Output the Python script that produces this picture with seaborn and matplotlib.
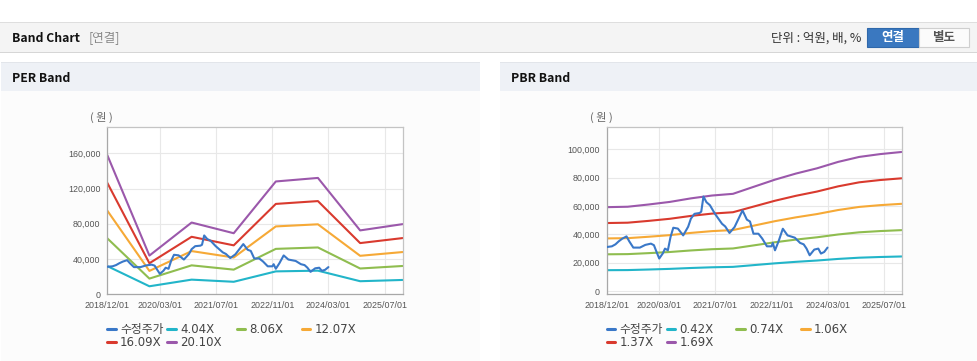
import pandas as pd
import matplotlib.pyplot as plt
import matplotlib.ticker as mticker
from matplotlib.patches import Rectangle
from matplotlib.lines import Line2D
import seaborn as sns

# ---- values ----
price_name = "수정주가"
price_dates = [
    "2018-12-01", "2019-01-15", "2019-02-15", "2019-03-15", "2019-04-15", "2019-05-22",
    "2019-06-15", "2019-07-20", "2019-09-15", "2019-11-01", "2019-12-20", "2020-01-15",
    "2020-02-07", "2020-03-01", "2020-04-01", "2020-04-20", "2020-05-15", "2020-06-07",
    "2020-07-01", "2020-08-10", "2020-09-25", "2020-11-07", "2020-12-01", "2021-01-01",
    "2021-02-15", "2021-03-01", "2021-03-20", "2021-04-15", "2021-05-15", "2021-06-28",
    "2021-08-28", "2021-09-25", "2021-11-01", "2021-12-15", "2022-02-22", "2022-04-01",
    "2022-04-28", "2022-05-28", "2022-07-10", "2022-08-12", "2022-09-22", "2022-11-01",
    "2022-11-12", "2022-12-01", "2023-01-01", "2023-02-07", "2023-03-20", "2023-05-22",
    "2023-07-07", "2023-08-07", "2023-09-01", "2023-09-28", "2023-11-07", "2023-12-12",
    "2024-01-04", "2024-02-01", "2024-03-01",
]
price_values = [
    31000, 31500, 32900, 35000, 36900, 38500,
    35000, 30600, 30600, 32500, 33400, 32300,
    27500, 22900, 26500, 29900, 28700, 38000,
    44600, 44000, 39200, 45300, 51000, 54400,
    55000, 56000, 66600, 62600, 60500, 54400,
    47400, 45500, 40900, 45100, 56800, 50300,
    49000, 40400, 40400, 37000, 31500, 31500,
    33900, 28700, 35000, 43900, 39200, 37600,
    33900, 32900, 29900, 25200, 29200, 29900,
    26400, 27500, 30600,
]

# PER band: earnings per share at each year end, times the multiples
per_dates = ["2018-12-01", "2019-12-01", "2020-12-01", "2021-12-01",
             "2022-12-01", "2023-12-01", "2024-12-01", "2025-12-05"]
per_eps = [7860, 2175, 4045, 3440, 6370, 6570, 3600, 3955]
per_multiples = ["4.04X", "8.06X", "12.07X", "16.09X", "20.10X"]

# PBR band: book value per share, half-yearly, times the multiples
pbr_dates = ["2018-12-01", "2019-06-01", "2019-12-01", "2020-06-01", "2020-12-01",
             "2021-06-01", "2021-12-01", "2022-06-01", "2022-12-01", "2023-06-01",
             "2023-12-01", "2024-06-01", "2024-12-01", "2025-06-01", "2025-12-05"]
pbr_bps = [34970, 35150, 36090, 37160, 38640, 39820, 40530, 43490,
           46450, 48990, 51180, 53850, 55920, 57100, 57990]
pbr_multiples = ["0.42X", "0.74X", "1.06X", "1.37X", "1.69X"]

x_ticks = ["2018-12-01", "2020-03-01", "2021-07-01", "2022-11-01", "2024-03-01", "2025-07-01"]
per_yticks = [0, 40000, 80000, 120000, 160000]
pbr_yticks = [0, 20000, 40000, 60000, 80000, 100000]

line_colors = ["#3a78c8", "#22b5c9", "#8fbd4f", "#f6a936", "#d93a2e", "#9b58ab"]


def band_frame(dates, base, multiples):
    rows = [pd.DataFrame({"date": price_dates, "value": price_values, "series": price_name})]
    for m in multiples:
        k = float(m.rstrip("X"))
        rows.append(pd.DataFrame({"date": dates, "value": [k * b for b in base], "series": m}))
    df = pd.concat(rows, ignore_index=True)
    df["date"] = pd.to_datetime(df["date"])
    return df


sns.set_theme(style="white")
plt.rcParams["font.family"] = ["DejaVu Sans", "Noto Sans CJK KR"]
KR = ["Noto Sans CJK KR", "DejaVu Sans"]

W, H = 978, 361
fig = plt.figure(figsize=(W / 100, H / 100), dpi=100)
fig.patch.set_facecolor("white")


def box(x0, y0, x1, y1, **kw):
    fig.add_artist(Rectangle((x0 / W, 1 - y1 / H), (x1 - x0) / W, (y1 - y0) / H,
                             transform=fig.transFigure, zorder=-2, **kw))


def label(x, y, s, **kw):
    fig.text(x / W, 1 - y / H, s, **kw)


# page header
box(0, 22, W, 52, facecolor="#f4f4f4", edgecolor="none")
box(0, 21.5, W, 23, facecolor="#dedede", edgecolor="none")
box(0, 51.5, W, 53, facecolor="#d6d6d6", edgecolor="none")
label(12, 38, "Band Chart", family=KR, weight="bold", size=8.8, color="#111", va="center")
label(89, 38, "[연결]", family=KR, size=9, color="#8a8a8a", va="center")
label(861, 38, "단위 : 억원, 배, %", family=KR, size=9, color="#333", va="center", ha="right")
box(867, 28, 919, 46.5, facecolor="#3a78c0", edgecolor="#2f68ab", lw=0.8)
box(919, 28, 969, 46.5, facecolor="#fbfbfb", edgecolor="#cfcfcf", lw=0.8)
label(893, 37.5, "연결", family=KR, weight="bold", size=9, color="white", va="center", ha="center")
label(944, 37.5, "별도", family=KR, weight="bold", size=9, color="#555", va="center", ha="center")

panels = [
    dict(x0=1, x1=480, title="PER Band", left=107.3, right=402.7, ylim=(0, 190000),
         yticks=per_yticks, df=band_frame(per_dates, per_eps, per_multiples), unit_x=101.7),
    dict(x0=500, x1=W, title="PBR Band", left=606.7, right=901.7, ylim=(-2100, 115600),
         yticks=pbr_yticks, df=band_frame(pbr_dates, pbr_bps, pbr_multiples), unit_x=601.7),
]

for p in panels:
    box(p["x0"], 62, p["x1"], 91, facecolor="#eef1f6", edgecolor="none")
    box(p["x0"], 61.5, p["x1"], 63, facecolor="#e2e5ea", edgecolor="none")
    box(p["x0"], 91, p["x1"], H, facecolor="#fcfcfc", edgecolor="none")
    label(p["x0"] + 11, 78, p["title"], family=KR, weight="bold", size=8.8, color="#111", va="center")
    label(p["unit_x"], 117.5, "( 원 )", family=KR, size=8, color="#666", va="center", ha="center")

    ax = fig.add_axes([p["left"] / W, 1 - 294 / H, (p["right"] - p["left"]) / W, 167 / H])
    ax.set_facecolor("white")
    df = p["df"]
    order = df["series"].unique().tolist()
    palette = dict(zip(order, line_colors))
    sns.lineplot(data=df[df["series"] != price_name], x="date", y="value", hue="series",
                 palette=palette, linewidth=1.5, legend=False, ax=ax, zorder=2)
    sns.lineplot(data=df[df["series"] == price_name], x="date", y="value", color=palette[price_name],
                 linewidth=1.5, legend=False, ax=ax, zorder=3)

    ax.set_xlim(pd.Timestamp("2018-12-01"), pd.Timestamp("2025-12-05"))
    ax.set_ylim(*p["ylim"])
    ticks = pd.to_datetime(x_ticks)
    ax.set_xticks(ticks)
    ax.set_xticklabels([t.strftime("%Y/%m/%d") for t in ticks])
    ax.set_yticks(p["yticks"])
    ax.yaxis.set_major_formatter(mticker.FuncFormatter(lambda v, _: f"{int(v):,}"))
    ax.set_xlabel("")
    ax.set_ylabel("")
    ax.grid(True, color="#e8e8e8", lw=0.8)
    ax.set_axisbelow(True)
    for s in ax.spines.values():
        s.set_color("#c4c4c4")
        s.set_linewidth(0.9)
    ax.spines["left"].set_color("#a8a8a8")
    ax.spines["bottom"].set_color("#a8a8a8")
    ax.tick_params(axis="both", length=3, width=0.8, color="#aaaaaa", pad=2,
                   labelsize=6.4, labelcolor="#555555")
    for t in ax.get_xticklabels() + ax.get_yticklabels():
        t.set_family("Liberation Sans")

    # legend, two rows under the plot
    col_off = [0, 60, 129.5, 194.5]
    row_y = [329.3, 342.7]
    for i, name in enumerate(order):
        h = Line2D([], [], color=palette[name], lw=2.2)
        x = p["left"] + col_off[i % 4]
        y = row_y[i // 4]
        fig.legend(handles=[h], labels=[name], loc="center left",
                   bbox_to_anchor=(x / W, 1 - y / H), frameon=False,
                   handlelength=0.72, handletextpad=0.35, borderpad=0, borderaxespad=0,
                   prop={"family": ["DejaVu Sans", "Noto Sans CJK KR"], "size": 8.5},
                   labelcolor="#444444")

fig.savefig("out.png", dpi=100, facecolor=fig.get_facecolor())
